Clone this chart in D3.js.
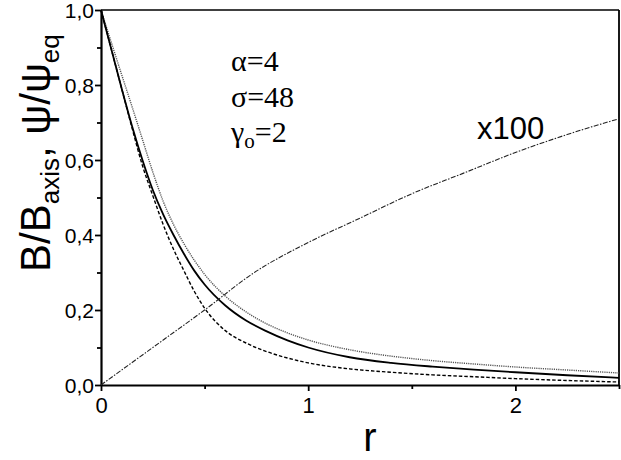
<!DOCTYPE html>
<html>
<head>
<meta charset="utf-8">
<script src="https://cdn.jsdelivr.net/npm/d3@7"></script>
<style>
  html, body { margin: 0; padding: 0; background: #fff; }
  svg { display: block; }
</style>
</head>
<body>
<svg id="chart" width="621" height="460"></svg>
<script>
// ---- data ----
const rDecay = [0, 0.05, 0.1, 0.15, 0.2, 0.25, 0.3, 0.35, 0.4, 0.45, 0.5, 0.6, 0.7, 0.8, 0.9, 1.0, 1.2, 1.4, 1.6, 1.8, 2.0, 2.25, 2.5];
const solidB   = [1.0, 0.895, 0.79, 0.69, 0.60, 0.52, 0.455, 0.40, 0.35, 0.305, 0.268, 0.212, 0.172, 0.143, 0.119, 0.100, 0.074, 0.059, 0.049, 0.041, 0.034, 0.026, 0.019];
const dottedB  = [1.0, 0.913, 0.827, 0.742, 0.655, 0.568, 0.49, 0.428, 0.377, 0.333, 0.295, 0.237, 0.195, 0.163, 0.139, 0.120, 0.094, 0.077, 0.065, 0.056, 0.048, 0.040, 0.032];
const dashedB  = [1.0, 0.895, 0.79, 0.685, 0.585, 0.505, 0.428, 0.362, 0.305, 0.25, 0.205, 0.145, 0.112, 0.089, 0.072, 0.059, 0.043, 0.034, 0.027, 0.022, 0.017, 0.012, 0.008];
const rPsi     = [0, 0.25, 0.5, 0.74, 1.0, 1.25, 1.5, 1.75, 2.0, 2.25, 2.5];
const psiX100  = [0, 0.10, 0.20, 0.30, 0.38, 0.445, 0.51, 0.565, 0.62, 0.668, 0.71];
const xMajorTicks = [0, 1, 2];
const xMinorTicks = [0.5, 1.5, 2.5];
const yMajorTicks = [0, 0.2, 0.4, 0.6, 0.8, 1.0];
const yMinorTicks = [0.1, 0.3, 0.5, 0.7, 0.9];
const yTickLabels = ["0,0", "0,2", "0,4", "0,6", "0,8", "1,0"];
const xTickLabels = ["0", "1", "2"];

// ---- layout ----
const svg = d3.select("#chart");
const pL = 101, pR = 619, pT = 10, pB = 385;
const x = d3.scaleLinear().domain([0, 2.5]).range([pL, pR]);
const y = d3.scaleLinear().domain([0, 1]).range([pB, pT]);
const SANS = "Liberation Sans";
const SERIF = "Liberation Serif";

// frame top/right
svg.append("line").attr("x1", pL).attr("x2", pR).attr("y1", pT).attr("y2", pT)
  .attr("stroke", "#000").attr("stroke-width", 1.6);
svg.append("line").attr("x1", pR).attr("x2", pR).attr("y1", pT).attr("y2", pB)
  .attr("stroke", "#000").attr("stroke-width", 1.8);

// x axis
const xAxis = d3.axisBottom(x).tickValues(xMajorTicks).tickSize(6).tickSizeOuter(0)
  .tickFormat((d, i) => xTickLabels[i]);
const gx = svg.append("g").attr("transform", `translate(0,${pB})`).call(xAxis);
gx.attr("font-family", SANS).attr("font-size", 22);
gx.select(".domain").attr("stroke-width", 2.2);
gx.selectAll(".tick line").attr("stroke-width", 1.8);
gx.selectAll(".tick text").attr("y", 12).attr("dy", "0.72em").attr("fill", "#000");
const xAxisMinor = d3.axisBottom(x).tickValues(xMinorTicks).tickSize(4).tickSizeOuter(0).tickFormat("");
const gxm = svg.append("g").attr("transform", `translate(0,${pB})`).call(xAxisMinor);
gxm.select(".domain").remove();
gxm.selectAll(".tick line").attr("stroke-width", 1.8);

// y axis
const yAxis = d3.axisLeft(y).tickValues(yMajorTicks).tickSize(6).tickSizeOuter(0)
  .tickFormat((d, i) => yTickLabels[i]);
const gy = svg.append("g").attr("transform", `translate(${pL},0)`).call(yAxis);
gy.attr("font-family", SANS).attr("font-size", 21);
gy.select(".domain").attr("stroke-width", 2.2);
gy.selectAll(".tick line").attr("stroke-width", 1.8);
gy.selectAll(".tick text").attr("x", -7).attr("dy", "0.38em").attr("fill", "#000");
const yAxisMinor = d3.axisLeft(y).tickValues(yMinorTicks).tickSize(4).tickSizeOuter(0).tickFormat("");
const gym = svg.append("g").attr("transform", `translate(${pL},0)`).call(yAxisMinor);
gym.select(".domain").remove();
gym.selectAll(".tick line").attr("stroke-width", 1.8);

// curves
const line = d3.line().x(d => x(d[0])).y(d => y(d[1])).curve(d3.curveMonotoneX);
function drawSeries(rs, vs, stroke, width, dash) {
  svg.append("path")
    .datum(rs.map((r, i) => [r, vs[i]]))
    .attr("d", line)
    .attr("fill", "none")
    .attr("stroke", stroke)
    .attr("stroke-width", width)
    .attr("stroke-dasharray", dash);
}
drawSeries(rDecay, dottedB, "#555", 1.4, "1.2,1");
drawSeries(rDecay, solidB, "#000", 1.8, null);
drawSeries(rDecay, dashedB, "#000", 1.4, "3.5,2");
drawSeries(rPsi, psiX100, "#222", 1.1, "5,1.5,1.5,1.5");

// annotations
const ann = svg.append("g").attr("font-family", SERIF).attr("font-size", 30).attr("fill", "#000");
ann.append("text").attr("x", 231).attr("y", 71).text("α=4");
ann.append("text").attr("x", 231).attr("y", 107).text("σ=48");
const g3 = ann.append("text").attr("x", 231).attr("y", 142);
g3.append("tspan").text("γ");
g3.append("tspan").attr("font-size", 21).attr("dy", 6).text("o");
g3.append("tspan").attr("dy", -6).text("=2");

svg.append("text").attr("font-family", SANS).attr("x", 477).attr("y", 139).attr("font-size", 31)
  .attr("fill", "#000").text("x100");

// axis titles
svg.append("text").attr("font-family", SANS).attr("x", 370).attr("y", 451).attr("text-anchor", "middle")
  .attr("font-size", 40).attr("fill", "#000").text("r");

const yt = svg.append("text").attr("font-family", SANS).attr("transform", "rotate(-90)")
  .attr("x", -272).attr("y", 50)
  .attr("font-size", 42).attr("fill", "#000");
yt.append("tspan").text("B/B");
yt.append("tspan").attr("font-size", 26).attr("dy", 9).text("axis");
yt.append("tspan").attr("dy", -9).text(", ψ/ψ");
yt.append("tspan").attr("font-size", 26).attr("dy", 9).text("eq");
</script>
</body>
</html>
